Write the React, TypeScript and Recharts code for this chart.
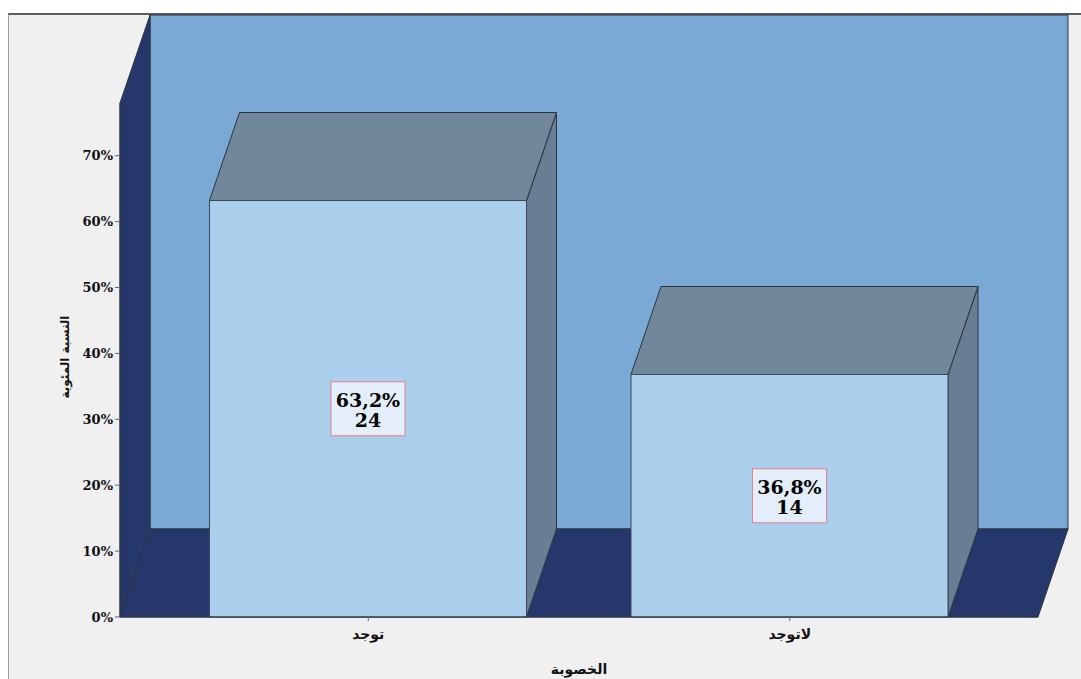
import { Bar, BarChart, LabelList, ReferenceArea, XAxis, YAxis } from "recharts";

// الخصوبة: توجد / لاتوجد
const categories = ["توجد", "لاتوجد"];
const shares = [0.632, 0.368];
const counts = [24, 14];
const yTicks = [0, 0.1, 0.2, 0.3, 0.4, 0.5, 0.6, 0.7];

const data = categories.map((name, i) => ({ name, share: shares[i], count: counts[i] }));

// perspective offset of the back plane
const DX = 30;
const DY = -88;
const X_PAD = 37.5;

const NAVY = "#26386b";
const EDGE = "#2b3440";
const SERIF = "'DejaVu Serif', serif";
const ARABIC = "'DejaVu Sans', sans-serif";

const fmtPct = (v: number) => `${Math.round(v * 100)}%`;
const fmtLabel = (v: number) => `${(v * 100).toFixed(1).replace(".", ",")}%`;

// back wall, floor and left wall drawn from the plot rectangle
function Walls(props: any) {
  const { x, y, width, height } = props;
  const L = x - X_PAD;
  const R = x + width + X_PAD;
  const T = y;
  const B = y + height;
  return (
    <g>
      <rect x={L + DX} y={T + DY} width={R - L} height={B - T} fill="#7aa9d5" stroke={EDGE} strokeWidth={1} />
      <polygon
        points={`${L},${B} ${R},${B} ${R + DX},${B + DY} ${L + DX},${B + DY}`}
        fill={NAVY}
        stroke={EDGE}
        strokeWidth={1}
      />
      <polygon
        points={`${L},${B} ${L},${T} ${L + DX},${T + DY} ${L + DX},${B + DY}`}
        fill={NAVY}
        stroke={EDGE}
        strokeWidth={1}
      />
    </g>
  );
}

function Box3D(props: any) {
  const { x, y, width: w, height: h } = props;
  return (
    <g>
      <polygon
        points={`${x + w},${y} ${x + w},${y + h} ${x + w + DX},${y + h + DY} ${x + w + DX},${y + DY}`}
        fill="#687e93"
        stroke={EDGE}
        strokeWidth={1}
      />
      <polygon
        points={`${x},${y} ${x + w},${y} ${x + w + DX},${y + DY} ${x + DX},${y + DY}`}
        fill="#71879a"
        stroke={EDGE}
        strokeWidth={1}
      />
      <rect x={x} y={y} width={w} height={h} fill="#abceec" stroke="#3c4a58" strokeWidth={1} />
    </g>
  );
}

function ValueBox(props: any) {
  const { x, y, width, height, index } = props;
  const cx = x + width / 2;
  const cy = y + height / 2;
  const font = { fontFamily: SERIF, fontWeight: 700, fontSize: 19 };
  return (
    <g>
      <rect x={cx - 37} y={cy - 27} width={74} height={54} fill="#e4eefa" stroke="#e5828e" strokeWidth={1} />
      <text x={cx} y={cy - 2} textAnchor="middle" fill="#000" style={font}>
        {fmtLabel(shares[index])}
      </text>
      <text x={cx} y={cy + 18} textAnchor="middle" fill="#000" style={font}>
        {counts[index]}
      </text>
    </g>
  );
}

export default function App() {
  return (
    <div style={{ position: "absolute", left: 0, top: 0, width: 1081, height: 679, background: "#fff" }}>
      <div
        style={{
          position: "absolute",
          left: 8,
          top: 13,
          width: 1073,
          height: 666,
          background: "#f0f0f0",
          borderTop: "2px solid #5e5e5e",
          borderLeft: "1px solid #9a9a9a",
          boxSizing: "border-box",
        }}
      />
      <BarChart
        width={1081}
        height={679}
        data={data}
        margin={{ top: 103, right: 43, bottom: 0, left: 0 }}
        style={{ position: "absolute", left: 0, top: 0 }}
      >
        <XAxis
          dataKey="name"
          padding={{ left: X_PAD, right: X_PAD }}
          height={62}
          axisLine={{ stroke: EDGE }}
          tickLine={{ stroke: "#666" }}
          tickSize={4}
          tickMargin={8}
          tick={{ fill: "#111", fontSize: 14, fontWeight: 700, fontFamily: ARABIC }}
          label={{
            value: "الخصوبة",
            position: "insideBottom",
            offset: 5,
            fill: "#111",
            fontSize: 14,
            fontWeight: 700,
            fontFamily: ARABIC,
          }}
        />
        <YAxis
          type="number"
          domain={[0, 0.78]}
          ticks={yTicks}
          tickFormatter={fmtPct}
          width={120}
          axisLine={{ stroke: EDGE }}
          tickLine={{ stroke: "#666" }}
          tickSize={5}
          tickMargin={2}
          tick={{ fill: "#111", fontSize: 13, fontWeight: 700, fontFamily: SERIF }}
          label={{
            value: "النسبة المئوية",
            angle: -90,
            position: "center",
            dx: 5,
            dy: -3,
            fill: "#111",
            fontSize: 12,
            fontWeight: 700,
            fontFamily: ARABIC,
          }}
        />
        <ReferenceArea y1={0} y2={0.78} shape={<Walls />} ifOverflow="visible" />
        <Bar dataKey="share" barSize={317} shape={<Box3D />} isAnimationActive={false}>
          <LabelList dataKey="share" content={<ValueBox />} />
        </Bar>
      </BarChart>
    </div>
  );
}
